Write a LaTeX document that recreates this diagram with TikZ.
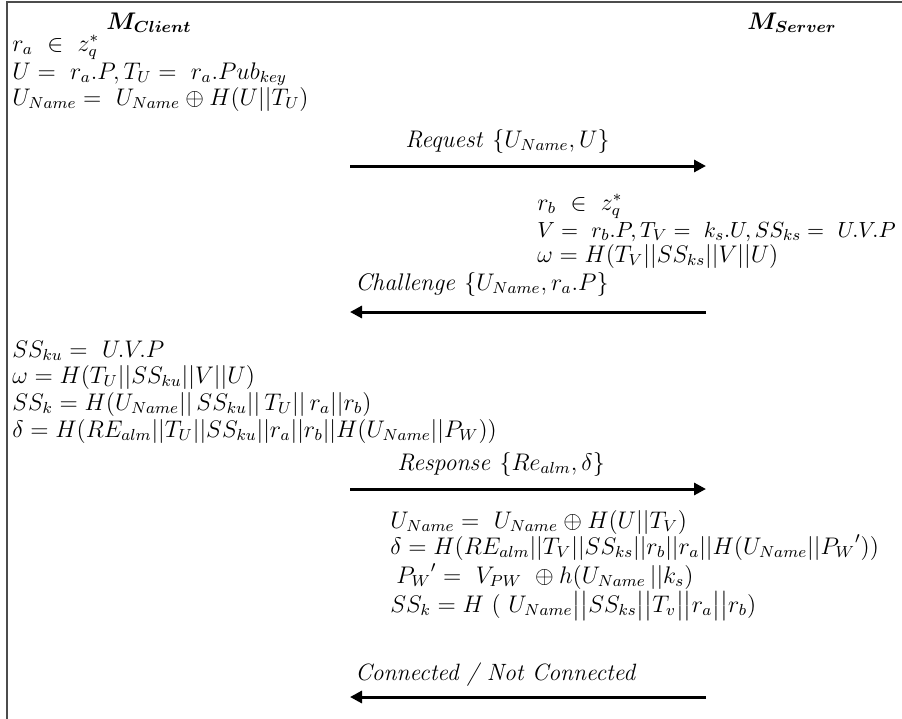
\documentclass[tikz,border=0pt]{standalone}
\usepackage{amsmath,amssymb,bm}
\usetikzlibrary{arrows.meta}
\newcommand{\tallbar}{\smash{\big|}}
\tikzset{
  every node/.style={inner sep=0pt, font=\fontsize{11.8}{14}\selectfont},
  eq/.style={anchor=base west},
  title/.style={anchor=base},
  msg/.style={-{Triangle[length=6pt,width=6pt]}, line width=1.5pt},
  frame/.style={line width=1pt, draw=black!70}
}
\begin{document}
\begin{tikzpicture}[x=0.5pt,y=-0.5pt]
\useasboundingbox (0,0) rectangle (902,719);
\draw[frame] (7,719) -- (7,1.5) -- (902,1.5);
% titles
\node[title] (mc) at (149,29) {$\bm{M_{Client}}$};
\node[title] (ms) at (792,29) {$\bm{M_{Server}}$};
% client block 1
\node[eq] (c1) at (12,51) {$r_a \ \in\ z_q^*$};
\node[eq] (c2) at (12,79) {$U =\ r_a.P, T_U =\ r_a.Pub_{key}$};
\node[eq] (c3) at (12,105) {$U_{Name} =\ U_{Name}\oplus H(U||T_U)$};
% request
\node[eq] (lreq) at (405,147) {$\mathit{Request}\ \{U_{Name}, U\}$};
\coordinate (a1s) at (350,166);
\coordinate (a1e) at (706,166);
\draw[msg] (a1s) -- (a1e);
% server block 1
\node[eq] (s1) at (537,210) {$r_b \ \in\ z_q^*$};
\node[eq, font=\fontsize{11}{13}\selectfont] (s2) at (537,237) {$V =\ r_b.P, T_V =\ k_s.U, SS_{ks} =\ U.V.P$};
\node[eq] (s3) at (537,262) {$\omega = H(T_V||SS_{ks}||V||U)$};
% challenge
\node[eq] (lch) at (355,290) {$\mathit{Challenge}\ \{U_{Name}, r_a.P\}$};
\coordinate (a2s) at (706,312);
\coordinate (a2e) at (350,312);
\draw[msg] (a2s) -- (a2e);
% client block 2
\node[eq] (c4) at (12,357) {$SS_{ku} =\ U.V.P$};
\node[eq] (c5) at (12,383) {$\omega = H(T_U||SS_{ku}||V||U)$};
\node[eq] (c6) at (12,410) {$SS_k = H(U_{Name}||\,SS_{ku}||\,T_U||\,r_a||r_b)$};
\node[eq] (c7) at (12,437) {$\delta = H(RE_{alm}||T_U||SS_{ku}||r_a||r_b||H(U_{Name}||P_W))$};
% response
\node[eq] (lre) at (397,470) {$\mathit{Response}\ \{Re_{alm}, \delta\}$};
\coordinate (a3s) at (350,489);
\coordinate (a3e) at (706,489);
\draw[msg] (a3s) -- (a3e);
% server block 2
\node[eq] (s4) at (390,528) {$U_{Name} =\ U_{Name}\oplus H(U||T_V)$};
\node[eq] (s5) at (390,554) {$\delta = H(RE_{alm}||T_V||SS_{ks}||r_b||r_a||H(U_{Name}||{P_W}'))$};
\node[eq] (s6) at (396,583) {${P_W}' =\ V_{PW}\ \oplus h(U_{Name}\,||k_s)$};
\node[eq] (s7) at (390,612) {$SS_k = H\ (\ U_{Name}\tallbar\tallbar SS_{ks}\tallbar\tallbar T_v\tallbar\tallbar r_a\tallbar\tallbar r_b)$};
% connected
\node[eq] (lco) at (355,680) {\textit{Connected / Not Connected}};
\coordinate (a4s) at (706,697);
\coordinate (a4e) at (350,697);
\draw[msg] (a4s) -- (a4e);
\end{tikzpicture}
\end{document}
